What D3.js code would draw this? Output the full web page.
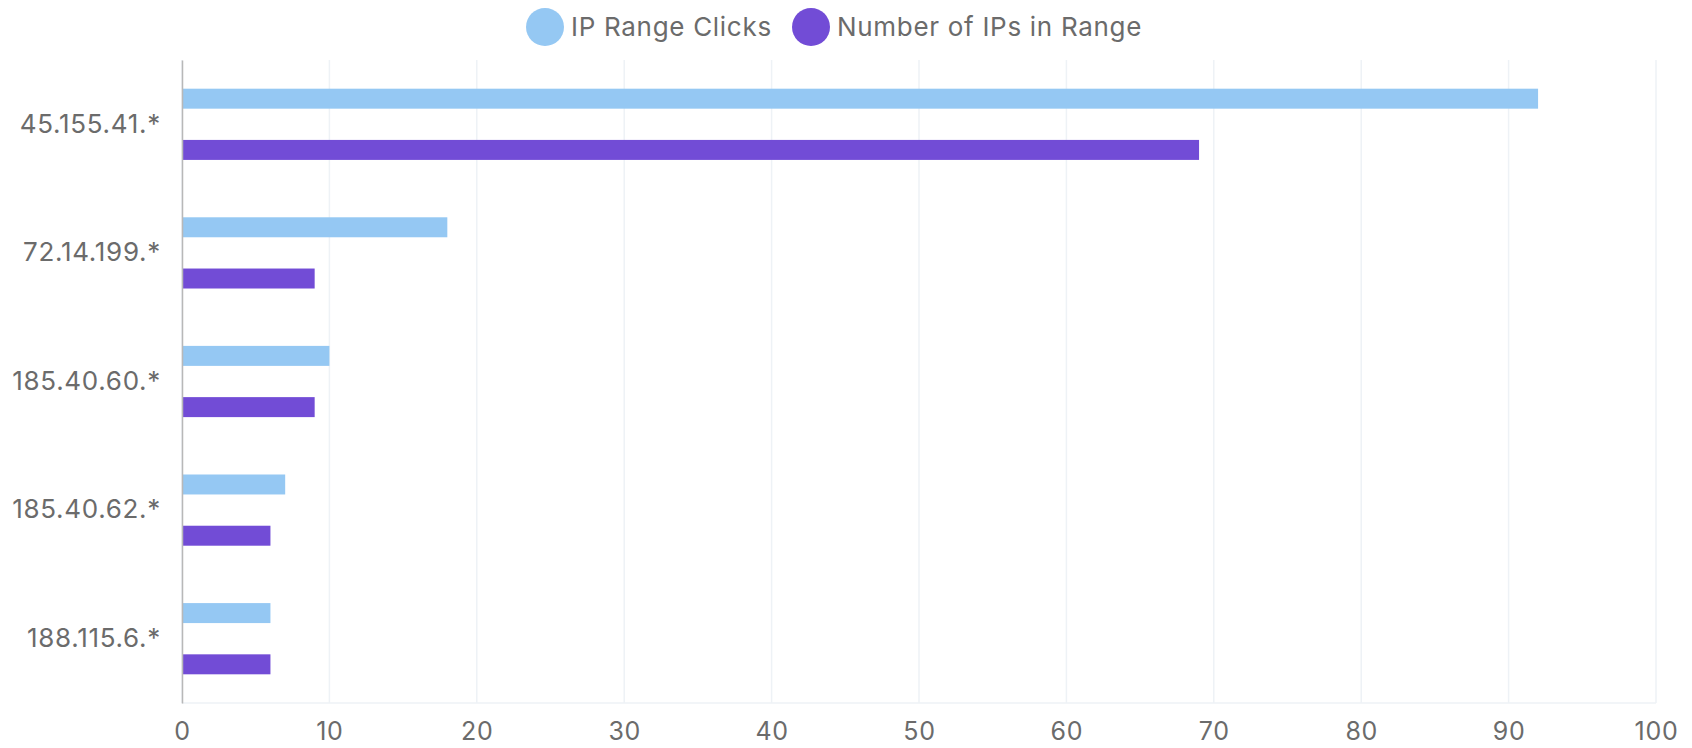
<!DOCTYPE html>
<html>
<head>
<meta charset="utf-8">
<script src="https://cdn.jsdelivr.net/npm/d3@7"></script>
<style>
  body { margin: 0; background: #fff; }
  text { font-family: "Inter", "Noto Sans", sans-serif; letter-spacing: 0.7px; }
</style>
</head>
<body>
<svg id="chart" width="1692" height="748"></svg>
<script>
// data
var ranges = ["45.155.41.*", "72.14.199.*", "185.40.60.*", "185.40.62.*", "188.115.6.*"];
var clicks = [92, 18, 10, 7, 6];
var ipCount = [69, 9, 9, 6, 6];
var seriesNames = ["IP Range Clicks", "Number of IPs in Range"];
var seriesColors = ["#95c8f3", "#724cd6"];
var xTicks = [0, 10, 20, 30, 40, 50, 60, 70, 80, 90, 100];

var svg = d3.select("#chart");
var margin = {top: 60, left: 182, right: 36, bottom: 45};
var width = 1692 - margin.left - margin.right,
    height = 748 - margin.top - margin.bottom;

var x = d3.scaleLinear().domain([0, 100]).range([0, width]);
var y = d3.scaleBand().domain(ranges).range([0, height]);
var inner = d3.scaleBand().domain(seriesNames).range([0, y.bandwidth()])
    .paddingInner(0.61).paddingOuter(0.56);

var g = svg.append("g").attr("transform", "translate(" + margin.left + "," + margin.top + ")");

// vertical grid lines
g.selectAll(".grid").data(xTicks).enter().append("line")
    .attr("x1", function(d) { return x(d); })
    .attr("x2", function(d) { return x(d); })
    .attr("y1", 0).attr("y2", height)
    .attr("stroke", "#eef2f6").attr("stroke-width", 1.5);

// bottom grid line
g.append("line")
    .attr("x1", 0).attr("x2", width)
    .attr("y1", height).attr("y2", height)
    .attr("stroke", "#eef2f6").attr("stroke-width", 1.5);

// bars
var rows = ranges.map(function(r, i) {
    return [
        {range: r, series: seriesNames[0], value: clicks[i], color: seriesColors[0]},
        {range: r, series: seriesNames[1], value: ipCount[i], color: seriesColors[1]}
    ];
});

var groups = g.selectAll(".grp").data(rows).enter().append("g")
    .attr("transform", function(d) { return "translate(0," + y(d[0].range) + ")"; });

groups.selectAll("rect").data(function(d) { return d; }).enter().append("rect")
    .attr("x", 0)
    .attr("y", function(d) { return inner(d.series); })
    .attr("height", inner.bandwidth())
    .attr("width", function(d) { return x(d.value); })
    .attr("fill", function(d) { return d.color; });

// y axis
var yAxis = g.append("g").call(d3.axisLeft(y).tickSize(0).tickPadding(21));
yAxis.select(".domain").attr("stroke", "#b8b8b8").attr("stroke-width", 1.5);
yAxis.selectAll("text").attr("font-size", 26).attr("fill", "#6b6b6b");

// x axis labels
var xAxis = g.append("g").attr("transform", "translate(0," + height + ")")
    .call(d3.axisBottom(x).tickValues(xTicks).tickSize(0).tickPadding(19));
xAxis.select(".domain").remove();
xAxis.selectAll("text").attr("font-size", 25).attr("fill", "#6b6b6b");

// legend
var legendX = [545, 811];
var legend = svg.append("g").selectAll("g").data(seriesNames).enter().append("g")
    .attr("transform", function(d, i) { return "translate(" + legendX[i] + ",27)"; });
legend.append("circle").attr("r", 19).attr("fill", function(d, i) { return seriesColors[i]; });
legend.append("text")
    .attr("x", 26).attr("dy", "0.35em")
    .attr("font-size", 26).attr("fill", "#6b6b6b")
    .text(function(d) { return d; });
</script>
</body>
</html>
